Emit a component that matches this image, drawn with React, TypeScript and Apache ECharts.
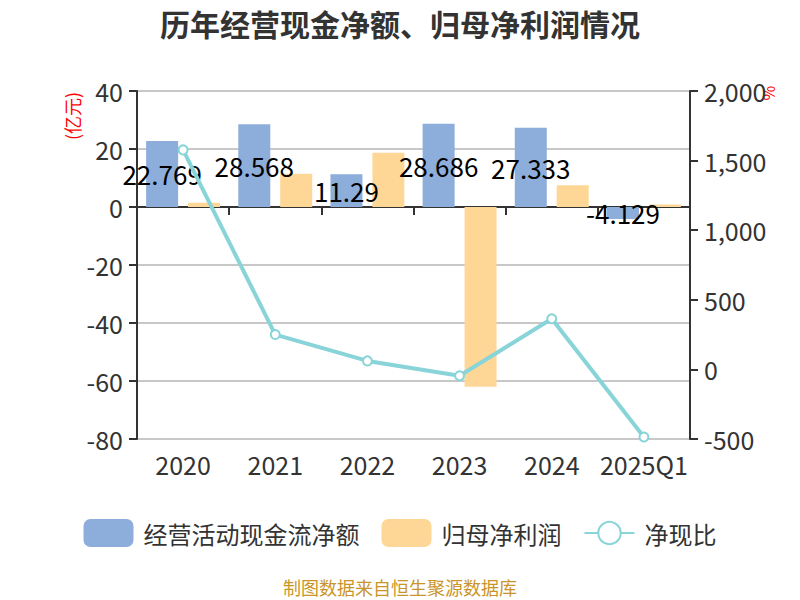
import React, { useEffect, useRef } from "react";
import * as echarts from "echarts";

const categories = ["2020", "2021", "2022", "2023", "2024", "2025Q1"];
const cashFlow = [22.769, 28.568, 11.29, 28.686, 27.333, -4.129];
const netProfit = [1.5, 11.5, 18.7, -62.0, 7.5, 0.85];
const ratio = [1577, 250, 61, -46, 364, -486];

const FONT = "'Noto Sans CJK SC', 'Noto Sans', sans-serif";

export default function App() {
  const ref = useRef<HTMLDivElement>(null);
  useEffect(() => {
    if (!ref.current) return;
    const chart = echarts.init(ref.current, undefined, { renderer: "svg" });
    chart.setOption({
      animation: false,
      textStyle: { fontFamily: FONT },
      title: {
        text: "历年经营现金净额、归母净利润情况",
        left: "center",
        top: 3,
        textStyle: { fontSize: 30, fontWeight: "bold", color: "#333", fontFamily: FONT },
      },
      legend: {
        bottom: 48,
        left: "center",
        itemWidth: 50,
        itemHeight: 28,
        itemGap: 22,
        textStyle: { fontSize: 24, color: "#333", fontFamily: FONT, padding: [0, 0, 0, 5] },
        data: ["经营活动现金流净额", "归母净利润", "净现比"],
      },
      grid: { left: 137, right: 110, top: 91, bottom: 161, containLabel: false },
      xAxis: [
        {
          type: "category",
          data: categories,
          position: "bottom",
          axisLine: { show: false, onZero: false },
          axisTick: { show: false },
          axisLabel: { fontSize: 25, color: "#333", margin: 12, interval: 0, fontFamily: FONT },
        },
        {
          type: "category",
          data: categories,
          position: "bottom",
          axisLine: { show: true, onZero: true, lineStyle: { color: "#333", width: 2 } },
          axisTick: { show: true, length: 8, lineStyle: { color: "#333", width: 2 } },
          axisLabel: { show: false },
        },
      ],
      yAxis: [
        {
          type: "value",
          min: -80,
          max: 40,
          interval: 20,
          axisLine: { show: true, lineStyle: { color: "#333", width: 2 } },
          axisTick: { show: true, length: 8, lineStyle: { color: "#333", width: 2 } },
          axisLabel: { fontSize: 25, color: "#333", margin: 14, fontFamily: FONT },
          splitLine: { show: true, lineStyle: { color: "#c8c8c8", width: 2 } },
        },
        {
          type: "value",
          min: -500,
          max: 2000,
          interval: 500,
          position: "right",
          axisLine: { show: true, lineStyle: { color: "#333", width: 2 } },
          axisTick: { show: true, length: 8, lineStyle: { color: "#333", width: 2 } },
          axisLabel: {
            fontSize: 25,
            color: "#333",
            margin: 14,
            fontFamily: FONT,
            formatter: (v: number) => v.toLocaleString("en-US"),
          },
          splitLine: { show: false },
        },
      ],
      series: [
        {
          name: "经营活动现金流净额",
          type: "bar",
          xAxisIndex: 0,
          yAxisIndex: 0,
          data: cashFlow,
          barWidth: 32,
          barGap: "31%",
          itemStyle: { color: "#8daddb" },
          label: {
            show: true,
            position: "inside",
            color: "#000",
            fontSize: 26,
            fontFamily: FONT,
          },
          z: 2,
        },
        {
          name: "归母净利润",
          type: "bar",
          xAxisIndex: 0,
          yAxisIndex: 0,
          data: netProfit,
          barWidth: 32,
          barGap: "31%",
          itemStyle: { color: "#fed797" },
          z: 2,
        },
        {
          name: "净现比",
          type: "line",
          xAxisIndex: 0,
          yAxisIndex: 1,
          data: ratio,
          symbol: "emptyCircle",
          symbolSize: 9,
          lineStyle: { color: "#88d4d8", width: 4 },
          itemStyle: { color: "#88d4d8", borderWidth: 2 },
          z: 3,
        },
      ],
      graphic: [
        {
          type: "text",
          x: 72,
          y: 116,
          rotation: Math.PI / 2,
          style: {
            text: "(亿元)",
            fill: "#ff0000",
            fontSize: 18,
            fontFamily: FONT,
            align: "center",
            verticalAlign: "middle",
          },
        },
        {
          type: "text",
          x: 768,
          y: 93,
          rotation: Math.PI / 2,
          style: {
            text: "%",
            fill: "#ff0000",
            fontSize: 16,
            fontFamily: FONT,
            align: "center",
            verticalAlign: "middle",
          },
        },
        {
          type: "text",
          left: "center",
          top: 578,
          style: {
            text: "制图数据来自恒生聚源数据库",
            fill: "#c9952b",
            fontSize: 18,
            fontFamily: FONT,
          },
        },
      ],
    });
    return () => chart.dispose();
  }, []);
  return (
    <div
      ref={ref}
      style={{ position: "absolute", left: 0, top: 0, width: 800, height: 600 }}
    />
  );
}
